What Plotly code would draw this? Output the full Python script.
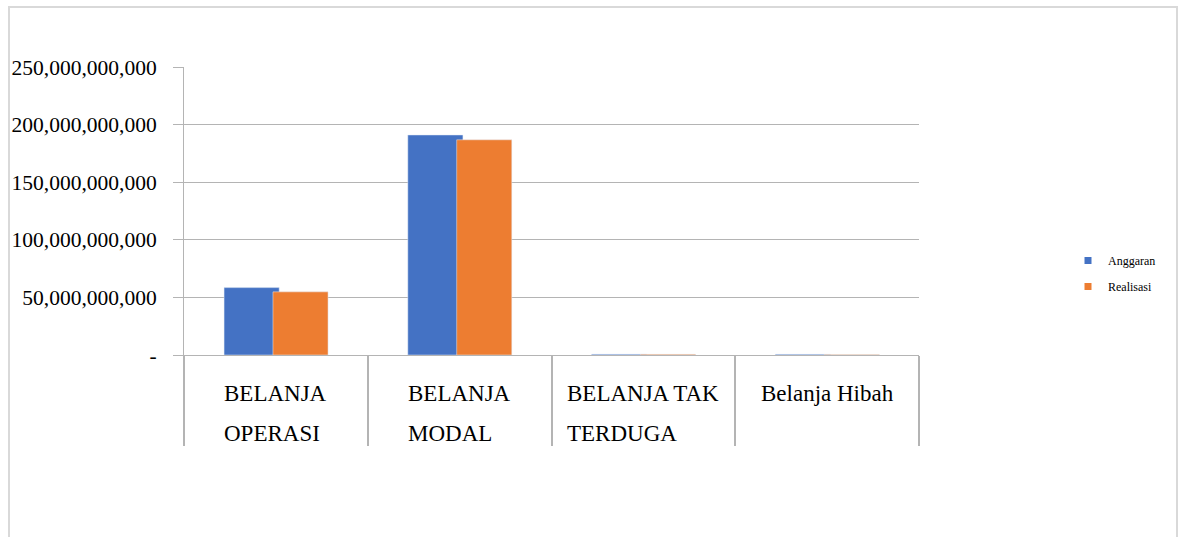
import plotly.graph_objects as go

categories = ["BELANJA OPERASI", "BELANJA MODAL", "BELANJA TAK TERDUGA", "Belanja Hibah"]
label_lines = [["BELANJA", "OPERASI"], ["BELANJA", "MODAL"], ["BELANJA TAK", "TERDUGA"], ["Belanja Hibah"]]
anggaran = [58_500_000_000, 191_000_000_000, 700_000_000, 600_000_000]
realisasi = [54_800_000_000, 186_800_000_000, 600_000_000, 500_000_000]
series_names = ["Anggaran", "Realisasi"]
y_tickvals = [0, 50e9, 100e9, 150e9, 200e9, 250e9]
y_ticktext = ["-", "50,000,000,000", "100,000,000,000", "150,000,000,000", "200,000,000,000", "250,000,000,000"]

BLUE = "#4472C4"
ORANGE = "#ED7D31"
GRID = "#B4B4B4"
FONT = "Liberation Serif, Times New Roman, Times, serif"

# pixel geometry of plot area
L, R, T, B = 184, 919, 67, 355
W, H = 1179, 537
pw, ph = R - L, B - T

def px_x(p):
    return (p - L) / pw

def px_y(p):
    return (B - p) / ph

fig = go.Figure()
fig.add_trace(go.Bar(x=categories, y=anggaran, name=series_names[0], marker_color=BLUE,
                     width=0.30, offset=-0.282, showlegend=False))
fig.add_trace(go.Bar(x=categories, y=realisasi, name=series_names[1], marker_color=ORANGE,
                     width=0.30, offset=-0.016, showlegend=False))
# legend entries with small square markers
fig.add_trace(go.Scatter(x=[None], y=[None], mode="markers", name=series_names[0],
                         legendgroup="a", marker=dict(symbol="square", size=7, color=BLUE)))
fig.add_trace(go.Scatter(x=[None], y=[None], mode="markers", name=series_names[1],
                         legendgroup="b", marker=dict(symbol="square", size=7, color=ORANGE)))

line_gap = 40
fs = 23
annotations = []
for cat, lines in zip(categories, label_lines):
    txt = "<br>".join(f"<span style='font-size:{fs}px'>{l}</span>" for l in lines)
    annotations.append(dict(
        x=cat, xref="x", y=px_y(379), yref="paper", yanchor="top",
        xanchor="center", align="left", showarrow=False, text=txt,
        font=dict(family=FONT, size=line_gap / 1.3, color="#000000"),
    ))

fig.update_layout(
    width=W, height=H, autosize=False,
    margin=dict(l=L, r=W - R, t=T, b=H - B, pad=0),
    paper_bgcolor="white", plot_bgcolor="white",
    barmode="overlay",
    font=dict(family=FONT, color="#000000"),
    annotations=annotations,
    legend=dict(xref="container", yref="container", x=1068 / W, y=1 - 246 / H,
                xanchor="left", yanchor="top",
                font=dict(family=FONT, size=12, color="#000000"),
                itemwidth=30, tracegroupgap=7, bgcolor="rgba(0,0,0,0)"),
    shapes=[dict(type="rect", xref="paper", yref="paper",
                 x0=px_x(9), x1=px_x(1177), y0=px_y(560), y1=px_y(7),
                 line=dict(color="#D9D9D9", width=2), fillcolor="rgba(0,0,0,0)", layer="below")],
)
fig.update_xaxes(
    type="category", range=[-0.5, 3.5], showticklabels=False,
    showline=True, linecolor=GRID, linewidth=1,
    ticks="outside", tickson="boundaries", ticklen=90, tickcolor=GRID, tickwidth=2,
    showgrid=False, zeroline=False, automargin=False,
)
fig.update_yaxes(
    range=[0, 250e9], tickvals=y_tickvals, ticktext=y_ticktext,
    tickfont=dict(family=FONT, size=21.5, color="#000000"),
    showline=True, linecolor=GRID, linewidth=1,
    ticks="outside", ticklen=10, tickcolor=GRID, tickwidth=1,
    showgrid=True, gridcolor=GRID, gridwidth=1, zeroline=False,
    ticklabelstandoff=12, layer="below traces", automargin=False,
)

fig.write_html("out.html", config={"displayModeBar": False},
               post_script="document.body.style.margin='0';")
